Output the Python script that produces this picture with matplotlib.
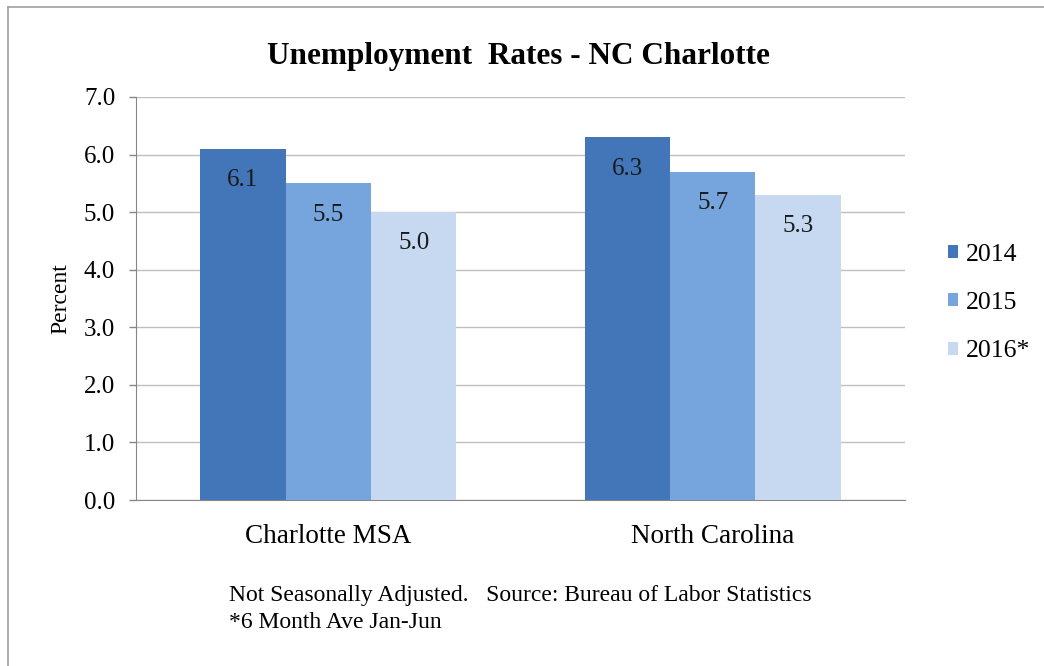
import matplotlib.pyplot as plt
import numpy as np
from matplotlib.lines import Line2D

# data
regions = ["Charlotte MSA", "North Carolina"]
years = ["2014", "2015", "2016*"]
rate_2014 = [6.1, 6.3]
rate_2015 = [5.5, 5.7]
rate_2016 = [5.0, 5.3]
yticks = [0.0, 1.0, 2.0, 3.0, 4.0, 5.0, 6.0, 7.0]

colors = ["#4376B8", "#75A5DC", "#C7D9F0"]

plt.rcParams["font.family"] = ["Liberation Serif", "DejaVu Serif"]

fig = plt.figure(figsize=(10.44, 6.66), dpi=100)
ax = fig.add_axes([0.1303, 0.2492, 0.8669 - 0.1303, 0.8544 - 0.2492])

x = np.arange(len(regions))
w = 0.222
series = [rate_2014, rate_2015, rate_2016]
for i, (vals, lab, c) in enumerate(zip(series, years, colors)):
    bars = ax.bar(x + (i - 1) * w, vals, w, color=c, label=lab, zorder=3)
    for b, v in zip(bars, vals):
        ax.annotate(f"{v:.1f}", (b.get_x() + b.get_width() / 2, v),
                    xytext=(0, -22.5), textcoords="offset points",
                    ha="center", va="center", fontsize=18, color="#1a1a1a")

ax.set_xlim(-0.5, 1.5)
ax.set_ylim(0, 7)
ax.set_yticks(yticks)
ax.set_yticklabels([f"{t:.1f}" for t in yticks])
ax.set_xticks(x)
ax.set_xticklabels(regions)
ax.tick_params(axis="y", length=5, width=1, color="#868686", pad=10, labelsize=18)
ax.tick_params(axis="x", length=0, pad=17, labelsize=19.5)
ax.grid(axis="y", color="#BFBFBF", lw=1, zorder=0)
for s in ["top", "right"]:
    ax.spines[s].set_visible(False)
ax.spines["left"].set_color("#868686")
ax.spines["bottom"].set_color("#868686")
ax.set_ylabel("Percent", fontsize=17, labelpad=9)

ax.legend(loc="center left", bbox_to_anchor=(0.886, 0.545), bbox_transform=fig.transFigure,
          frameon=False, fontsize=18.5, handlelength=0.4, handleheight=0.4,
          handletextpad=0.3, labelspacing=1.02)

fig.text(0.497, 0.915, "Unemployment  Rates - NC Charlotte", ha="center", va="center",
         fontsize=22.5, fontweight="bold")
fig.text(0.2193, 0.1055, "Not Seasonally Adjusted.   Source: Bureau of Labor Statistics",
         ha="left", va="center", fontsize=17)
fig.text(0.2193, 0.065, "*6 Month Ave Jan-Jun", ha="left", va="center", fontsize=17)

# outer chart border (left and top visible)
fig.add_artist(Line2D([8 / 1044, 8 / 1044], [0, 1 - 7 / 666], transform=fig.transFigure,
                      color="#A0A0A0", lw=1.2))
fig.add_artist(Line2D([8 / 1044, 1], [1 - 7 / 666, 1 - 7 / 666], transform=fig.transFigure,
                      color="#A0A0A0", lw=1.2))

fig.savefig("out.png", dpi=100)
